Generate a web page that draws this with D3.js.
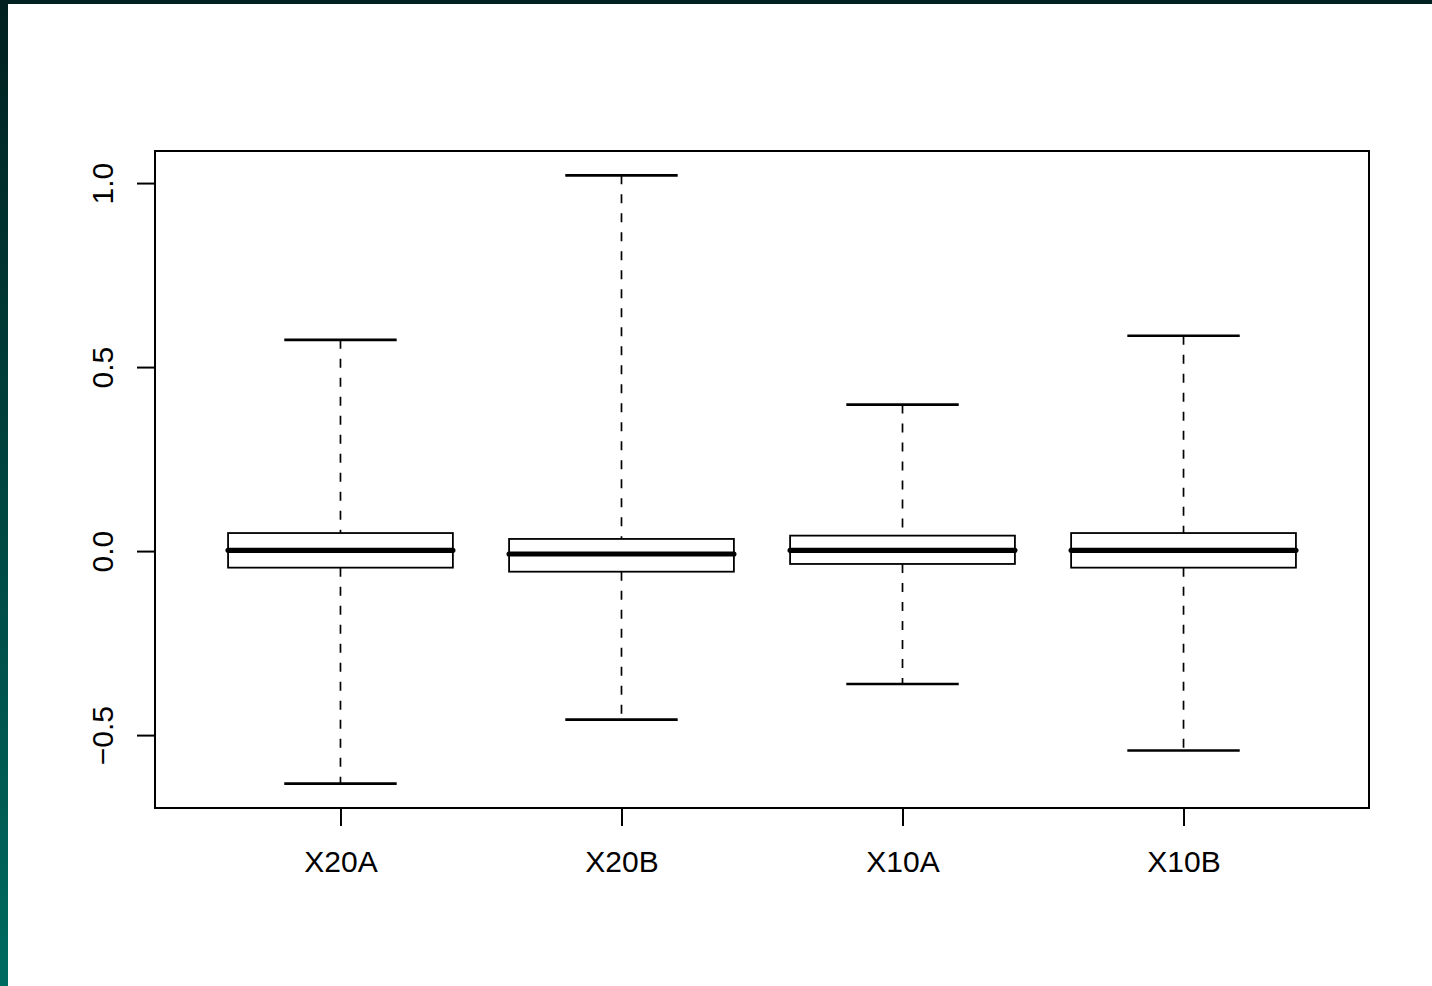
<!DOCTYPE html>
<html lang="en">
<head>
    <meta charset="UTF-8">
    <title>Boxplot X20A X20B X10A X10B</title>
    <script src="https://d3js.org/d3.v7.min.js"></script>
    <style>
        body {
            margin: 0;
            padding: 0;
            width: 1432px;
            height: 986px;
            overflow: hidden;
            background: linear-gradient(to bottom, #01201f, #006b61);
        }
        .panel {
            position: absolute;
            left: 8px;
            top: 4px;
            right: 0;
            bottom: 0;
            background: #fff;
        }
        svg {
            position: absolute;
            left: 0;
            top: 0;
        }
        .tick-label {
            font-family: "Liberation Sans", Arial, Helvetica, sans-serif;
            font-size: 30px;
            fill: #000;
        }
    </style>
</head>
<body>
    <div class="panel"></div>
    <svg class="chart" width="1432" height="986"></svg>

    <script>
        // values (R boxplot stats)
        const categories = ['X20A', 'X20B', 'X10A', 'X10B'];
        const whiskerLow = [-0.632, -0.458, -0.361, -0.542];
        const q1 = [-0.045, -0.056, -0.035, -0.045];
        const medians = [0.002, -0.008, 0.002, 0.002];
        const q3 = [0.049, 0.033, 0.042, 0.049];
        const whiskerHigh = [0.574, 1.021, 0.398, 0.585];
        const yTicks = [-0.5, 0.0, 0.5, 1.0];

        const plot = { left: 155, right: 1369, top: 151, bottom: 808 };
        const boxData = categories.map((name, i) => ({
            name, pos: i + 1,
            lo: whiskerLow[i], q1: q1[i], med: medians[i], q3: q3[i], hi: whiskerHigh[i]
        }));

        const svg = d3.select('.chart');

        // R style 4% axis extension
        const xPad = (categories.length) * 0.04;
        const x = d3.scaleLinear()
            .domain([0.5 - xPad, categories.length + 0.5 + xPad])
            .range([plot.left, plot.right]);

        const [ymin, ymax] = d3.extent(whiskerLow.concat(whiskerHigh));
        const yPad = (ymax - ymin) * 0.04;
        const y = d3.scaleLinear()
            .domain([ymin - yPad, ymax + yPad])
            .range([plot.bottom, plot.top]);

        const unit = x(2) - x(1);
        const boxHalf = unit * 0.8 / 2;
        const stapleHalf = boxHalf / 2;

        const g = svg.append('g').attr('class', 'boxes');
        const box = g.selectAll('g.box')
            .data(boxData)
            .enter().append('g')
            .attr('class', 'box');

        // dashed whiskers
        box.append('line')
            .attr('x1', d => x(d.pos)).attr('x2', d => x(d.pos))
            .attr('y1', d => y(d.hi)).attr('y2', d => y(d.q3))
            .attr('stroke', '#000').attr('stroke-width', 1.7)
            .attr('stroke-dasharray', '9,10');
        box.append('line')
            .attr('x1', d => x(d.pos)).attr('x2', d => x(d.pos))
            .attr('y1', d => y(d.q1)).attr('y2', d => y(d.lo))
            .attr('stroke', '#000').attr('stroke-width', 1.7)
            .attr('stroke-dasharray', '9,10');

        // staples
        box.selectAll('line.staple')
            .data(d => [d.lo, d.hi].map(v => ({ pos: d.pos, v })))
            .enter().append('line')
            .attr('class', 'staple')
            .attr('x1', d => x(d.pos) - stapleHalf).attr('x2', d => x(d.pos) + stapleHalf)
            .attr('y1', d => y(d.v)).attr('y2', d => y(d.v))
            .attr('stroke', '#000').attr('stroke-width', 2.6);

        // box
        box.append('rect')
            .attr('x', d => x(d.pos) - boxHalf)
            .attr('width', boxHalf * 2)
            .attr('y', d => y(d.q3))
            .attr('height', d => y(d.q1) - y(d.q3))
            .attr('fill', 'none')
            .attr('stroke', '#000').attr('stroke-width', 1.8);

        // median
        box.append('line')
            .attr('x1', d => x(d.pos) - boxHalf).attr('x2', d => x(d.pos) + boxHalf)
            .attr('y1', d => y(d.med)).attr('y2', d => y(d.med))
            .attr('stroke', '#000').attr('stroke-width', 5.2)
            .attr('stroke-linecap', 'round');

        // frame
        svg.append('rect')
            .attr('x', plot.left).attr('y', plot.top)
            .attr('width', plot.right - plot.left)
            .attr('height', plot.bottom - plot.top)
            .attr('fill', 'none')
            .attr('stroke', '#000').attr('stroke-width', 2);

        // y axis
        const yAxis = svg.append('g')
            .attr('transform', `translate(${plot.left},0)`)
            .call(d3.axisLeft(y).tickValues(yTicks).tickSize(18).tickFormat(d3.format('.1f')));
        yAxis.select('.domain').remove();
        yAxis.selectAll('.tick line').attr('stroke', '#000').attr('stroke-width', 2);
        yAxis.selectAll('.tick text')
            .attr('class', 'tick-label')
            .attr('x', null).attr('dy', null)
            .attr('text-anchor', 'middle')
            .attr('transform', 'translate(-42,0) rotate(-90)')
            .attr('font-size', null).attr('font-family', null);

        // x axis
        const xAxis = svg.append('g')
            .attr('transform', `translate(0,${plot.bottom})`)
            .call(d3.axisBottom(x).tickValues(boxData.map(d => d.pos)).tickSize(18)
                .tickFormat(d => categories[d - 1]));
        xAxis.select('.domain').remove();
        xAxis.selectAll('.tick line').attr('stroke', '#000').attr('stroke-width', 2);
        xAxis.selectAll('.tick text')
            .attr('class', 'tick-label')
            .attr('y', 64).attr('dy', null)
            .attr('font-size', null).attr('font-family', null);
    </script>
</body>
</html>
